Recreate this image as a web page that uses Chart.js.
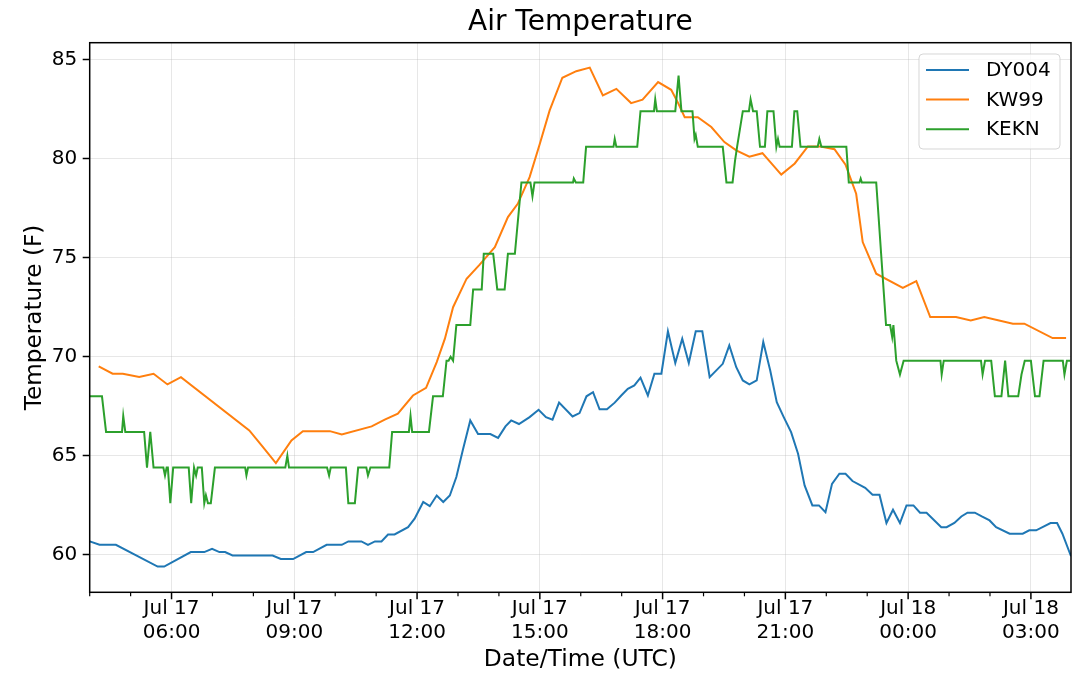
<!DOCTYPE html>
<html>
<head>
<meta charset="utf-8">
<title>Air Temperature</title>
<script src="https://cdn.jsdelivr.net/npm/chart.js@4.4.1/dist/chart.umd.min.js"></script>
<style>
  html, body { margin: 0; padding: 0; background: #fff; }
  #wrap { width: 1080px; height: 690px; position: relative; }
</style>
</head>
<body>
<div id="wrap"><canvas id="chart"></canvas></div>
<script>
// x = hours after Jul 17 04:00 UTC, y = air temperature (F)
const dyHours = [0, 0.24, 0.64, 1.66, 1.82, 2.47, 2.80, 2.99, 3.17, 3.31, 3.49, 4.47, 4.67, 4.97, 5.29, 5.46,
  5.79, 6.16, 6.32, 6.64, 6.80, 6.97, 7.13, 7.29, 7.45, 7.78, 7.94, 8.15, 8.31, 8.48, 8.64, 8.80, 8.96,
  9.12, 9.30, 9.49, 9.79, 9.98, 10.16, 10.30, 10.49, 10.75, 10.97, 11.15, 11.31, 11.47, 11.80, 11.97,
  12.14, 12.30, 12.46, 12.64, 12.83, 12.99, 13.15, 13.31, 13.46, 13.64, 13.80, 13.97, 14.13, 14.31,
  14.48, 14.64, 14.81, 14.97, 15.15, 15.47, 15.63, 15.80, 15.96, 16.12, 16.30, 16.46, 16.63, 16.79,
  16.96, 17.14, 17.31, 17.47, 17.66, 17.82, 17.98, 18.14, 18.32, 18.47, 18.64, 18.95, 19.13, 19.30,
  19.47, 19.63, 19.80, 19.96, 20.13, 20.29, 20.45, 20.81, 20.94, 21.13, 21.30, 21.45, 21.63, 21.80,
  21.99, 22.15, 22.48, 22.80, 22.96, 23.13, 23.48, 23.64, 23.77, 23.98];
const dyTemps = [60.67, 60.5, 60.5, 59.4, 59.4, 60.13, 60.13, 60.3, 60.13, 60.13, 59.96, 59.96, 59.78, 59.78, 60.13, 60.13,
  60.5, 60.5, 60.67, 60.67, 60.5, 60.67, 60.67, 61.02, 61.02, 61.39, 61.82, 62.66, 62.45, 62.99, 62.66, 62.99, 63.92,
  65.3, 66.78, 66.09, 66.09, 65.9, 66.48, 66.78, 66.6, 66.95, 67.32, 66.95, 66.82, 67.68, 66.98, 67.15,
  68.0, 68.21, 67.34, 67.34, 67.68, 68.04, 68.38, 68.55, 68.94, 68.04, 69.14, 69.14, 71.28, 69.68,
  70.91, 69.68, 71.28, 71.28, 68.97, 69.64, 70.57, 69.47, 68.8, 68.6, 68.8, 70.74, 69.3, 67.7,
  66.95, 66.19, 65.1, 63.5, 62.49, 62.49, 62.15, 63.58, 64.09, 64.09, 63.72, 63.38, 63.03, 63.03,
  61.6, 62.27, 61.6, 62.49, 62.49, 62.12, 62.12, 61.39, 61.39, 61.6, 61.93, 62.12, 62.12, 61.93,
  61.73, 61.39, 61.06, 61.06, 61.23, 61.23, 61.6, 61.6, 61.06, 59.92];

const kwHours = [0.22, 0.56, 0.81, 1.21, 1.56, 1.90, 2.23, 3.90, 4.22, 4.55, 4.93, 5.21, 5.87, 6.16, 6.89,
  7.21, 7.53, 7.90, 8.22, 8.48, 8.68, 8.88, 9.21, 9.53, 9.90, 10.22, 10.46, 10.75, 11.00, 11.24, 11.55,
  11.89, 12.22, 12.54, 12.87, 13.23, 13.51, 13.89, 14.21, 14.38, 14.54, 14.86, 15.19, 15.51, 15.80,
  16.12, 16.44, 16.90, 17.23, 17.55, 17.86, 18.20, 18.47, 18.73, 18.89, 19.22, 19.87, 20.20, 20.54,
  21.17, 21.53, 21.86, 22.56, 22.84, 23.53, 23.86];
const kwTemps = [69.51, 69.14, 69.14, 68.97, 69.14, 68.6, 68.97, 66.28, 65.47, 64.63, 65.77, 66.24, 66.24, 66.07, 66.48,
  66.82, 67.12, 68.04, 68.43, 69.73, 70.91, 72.5, 73.94, 74.65, 75.53, 77.05, 77.72, 79.07, 80.76, 82.44, 84.09,
  84.42, 84.6, 83.2, 83.53, 82.81, 82.98, 83.87, 83.48, 82.81, 82.1, 82.1, 81.6, 80.84, 80.42,
  80.1, 80.28, 79.2, 79.76, 80.62, 80.62, 80.48, 79.7, 78.23, 75.79, 74.19, 73.48, 73.82, 72.0,
  72.0, 71.83, 72.0, 71.67, 71.67, 70.94, 70.94];

const kekHours = [0, 0.30, 0.40, 0.79, 0.82, 0.87, 1.33, 1.40, 1.48, 1.56, 1.80, 1.84, 1.88, 1.91, 1.97, 2.04,
  2.42, 2.48, 2.55, 2.60, 2.64, 2.74, 2.80, 2.84, 2.89, 2.96, 3.06, 3.80, 3.83, 3.87, 4.78, 4.83, 4.87,
  5.80, 5.85, 5.89, 6.26, 6.32, 6.48, 6.56, 6.76, 6.80, 6.86, 7.32, 7.39, 7.80, 7.84, 7.88, 8.29, 8.39,
  8.63, 8.72, 8.77, 8.82, 8.88, 8.96, 9.30, 9.37, 9.58, 9.63, 9.86, 9.96, 10.14, 10.22, 10.39, 10.55,
  10.77, 10.82, 10.87, 11.81, 11.83, 11.88, 12.06, 12.13, 12.80, 12.83, 12.87, 13.38, 13.46, 13.79,
  13.82, 13.86, 14.31, 14.39, 14.46, 14.73, 14.78, 14.81, 14.86, 15.47, 15.56, 15.71, 15.77, 15.82,
  15.96, 16.11, 16.15, 16.21, 16.30, 16.38, 16.50, 16.56, 16.71, 16.78, 16.82, 16.86, 17.16, 17.22,
  17.29, 17.37, 17.79, 17.83, 17.88, 18.49, 18.55, 18.81, 18.84, 18.87, 19.22, 19.46, 19.56, 19.61,
  19.64, 19.71, 19.80, 19.89, 20.79, 20.82, 20.87, 21.78, 21.82, 21.88, 22.03, 22.12, 22.28, 22.37,
  22.45, 22.69, 22.77, 22.85, 23.00, 23.10, 23.21, 23.31, 23.78, 23.82, 23.88, 23.96];
const kekTemps = [68, 68, 66.2, 66.2, 67.0, 66.2, 66.2, 64.4, 66.2, 64.4, 64.4, 64.0, 64.4, 64.4, 62.6, 64.4,
  64.4, 62.6, 64.4, 64.0, 64.4, 64.4, 62.6, 63.0, 62.6, 62.6, 64.4, 64.4, 64.0, 64.4, 64.4, 65.0, 64.4,
  64.4, 64.0, 64.4, 64.4, 62.6, 62.6, 64.4, 64.4, 64.0, 64.4, 64.4, 66.2, 66.2, 67.0, 66.2, 66.2, 68,
  68, 69.8, 69.8, 70.0, 69.8, 71.6, 71.6, 73.4, 73.4, 75.2, 75.2, 73.4, 73.4, 75.2, 75.2, 78.8,
  78.8, 78.1, 78.8, 78.8, 79.0, 78.8, 78.8, 80.6, 80.6, 81.0, 80.6, 80.6, 82.4, 82.4,
  83.0, 82.4, 82.4, 84.2, 82.4, 82.4, 81.0, 81.2, 80.6, 80.6, 78.8, 78.8, 79.9, 80.6,
  82.4, 82.4, 83.0, 82.4, 82.4, 80.6, 80.6, 82.4, 82.4, 80.6, 81.0, 80.6, 80.6, 82.4,
  82.4, 80.6, 80.6, 81.0, 80.6, 80.6, 78.8, 78.8, 79.0, 78.8, 78.8, 71.6, 71.6, 71.0,
  71.6, 69.8, 69.1, 69.8, 69.8, 69.1, 69.8, 69.8, 69.1, 69.8, 69.8, 68, 68, 69.8,
  68, 68, 69.1, 69.8, 69.8, 68, 68, 69.8, 69.8, 69.1, 69.8, 69.8];

const seriesNames = ['DY004', 'KW99', 'KEKN'];
const seriesColors = ['#1f77b4', '#ff7f0e', '#2ca02c'];

const tickHours = [2, 5, 8, 11, 14, 17, 20, 23];
const tickDays = ['Jul 17', 'Jul 17', 'Jul 17', 'Jul 17', 'Jul 17', 'Jul 17', 'Jul 18', 'Jul 18'];
const tickTimes = ['06:00', '09:00', '12:00', '15:00', '18:00', '21:00', '00:00', '03:00'];
const yTicks = [60, 65, 70, 75, 80, 85];

function toPoints(hours, temps) {
    return hours.map((h, i) => ({ x: h, y: temps[i] }));
}

Chart.defaults.font.family = "'DejaVu Sans', sans-serif";
Chart.defaults.color = '#000';

// matplotlib-like frame, hourly minor ticks and legend box inside the axes
const axesDecor = {
    id: 'axesDecor',
    afterDraw(chart) {
        const ctx = chart.ctx;
        const a = chart.chartArea;
        const xs = chart.scales.x;
        ctx.save();

        // x ticks, major every 3 hours, minor every hour
        ctx.strokeStyle = '#000';
        for (let h = 0; h <= 23; h++) {
            const x = xs.getPixelForValue(h);
            const major = tickHours.includes(h);
            ctx.lineWidth = major ? 1.5 : 1.2;
            ctx.beginPath();
            ctx.moveTo(x, a.bottom);
            ctx.lineTo(x, a.bottom + (major ? 7 : 4));
            ctx.stroke();
        }

        // spines
        ctx.lineWidth = 1.5;
        ctx.strokeRect(a.left, a.top, a.right - a.left, a.bottom - a.top);

        // legend
        const w = 141, h = 95;
        const left = a.right - 11 - w;
        const top = a.top + 11.3;
        const r = 4;
        ctx.beginPath();
        ctx.moveTo(left + r, top);
        ctx.arcTo(left + w, top, left + w, top + h, r);
        ctx.arcTo(left + w, top + h, left, top + h, r);
        ctx.arcTo(left, top + h, left, top, r);
        ctx.arcTo(left, top, left + w, top, r);
        ctx.closePath();
        ctx.fillStyle = 'rgba(255,255,255,0.8)';
        ctx.fill();
        ctx.strokeStyle = 'rgba(204,204,204,0.8)';
        ctx.lineWidth = 1;
        ctx.stroke();

        ctx.font = "20px 'DejaVu Sans', sans-serif";
        ctx.textBaseline = 'middle';
        ctx.textAlign = 'left';
        chart.data.datasets.forEach((ds, i) => {
            const y = top + 16 + i * 29.6;
            ctx.strokeStyle = ds.borderColor;
            ctx.lineWidth = 2;
            ctx.beginPath();
            ctx.moveTo(left + 7, y);
            ctx.lineTo(left + 50, y);
            ctx.stroke();
            ctx.fillStyle = '#000';
            ctx.fillText(ds.label, left + 67, y + 1);
        });
        ctx.restore();
    }
};

const gridColor = 'rgba(176,176,176,0.3)';

new Chart(document.getElementById('chart'), {
    type: 'line',
    data: {
        datasets: [
            { label: seriesNames[0], data: toPoints(dyHours, dyTemps), borderColor: seriesColors[0], order: 2 },
            { label: seriesNames[1], data: toPoints(kwHours, kwTemps), borderColor: seriesColors[1], order: 1 },
            { label: seriesNames[2], data: toPoints(kekHours, kekTemps), borderColor: seriesColors[2], order: 0 }
        ]
    },
    options: {
        responsive: true,
        maintainAspectRatio: false,
        animation: false,
        datasets: {
            line: { borderWidth: 2, pointRadius: 0, tension: 0, fill: false }
        },
        layout: { padding: { left: 0, right: 9, top: 0, bottom: 0 } },
        scales: {
            x: {
                type: 'linear',
                min: 0,
                max: 23.98,
                afterBuildTicks: s => { s.ticks = tickHours.map(v => ({ value: v })); },
                afterFit: s => { s.height = 97.7; },
                grid: { color: gridColor, lineWidth: 1, drawTicks: false },
                border: { display: false },
                ticks: {
                    autoSkip: false, maxRotation: 0, minRotation: 0, padding: 4.7,
                    font: { size: 20 },
                    callback: v => {
                        const i = tickHours.indexOf(v);
                        return i < 0 ? '' : [tickDays[i], tickTimes[i]];
                    }
                },
                title: { display: true, text: 'Date/Time (UTC)', font: { size: 23.4 }, padding: { top: 0, bottom: 16 } }
            },
            y: {
                min: 58.1,
                max: 85.86,
                afterBuildTicks: s => { s.ticks = yTicks.map(v => ({ value: v })); },
                afterFit: s => { s.width = 89.7; },
                grid: { color: gridColor, lineWidth: 1, tickColor: '#000', tickLength: 7, tickWidth: 1.5 },
                border: { display: false },
                ticks: { padding: 5.4, font: { size: 20 } },
                title: { display: true, text: 'Temperature (F)', font: { size: 23.2 }, padding: { top: 20.6, bottom: 0 } }
            }
        },
        plugins: {
            legend: { display: false },
            tooltip: { enabled: false },
            title: {
                display: true,
                text: 'Air Temperature',
                fullSize: false,
                font: { size: 28, weight: 'normal' },
                padding: { top: 5.5, bottom: 3.6 }
            }
        }
    },
    plugins: [axesDecor]
});
</script>
</body>
</html>
